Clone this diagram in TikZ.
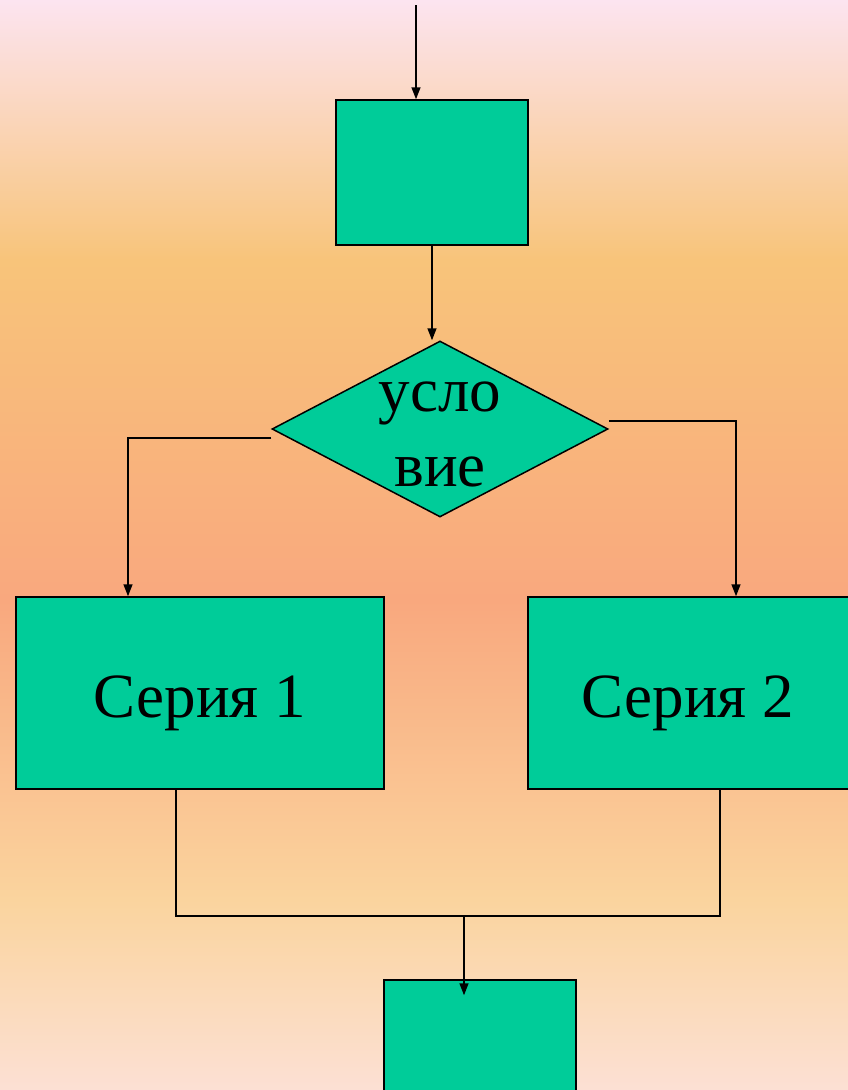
\documentclass[tikz,border=0pt]{standalone}
\usepackage{fontspec}
\setmainfont{Liberation Serif}
\usetikzlibrary{shapes.geometric,arrows.meta,positioning}

\definecolor{boxgreen}{RGB}{0,204,153}
\definecolor{bgpink}{RGB}{252,228,240}
\definecolor{bgorange}{RGB}{248,196,122}
\definecolor{bgsalmon}{RGB}{249,168,126}
\definecolor{bgsand}{RGB}{250,212,158}
\definecolor{bglight}{RGB}{252,224,212}

\tikzset{
  block/.style={rectangle,draw,fill=boxgreen,line width=1.5pt,inner sep=0pt},
  cond/.style={diamond,draw,fill=boxgreen,line width=1.5pt,inner sep=0pt},
  label text/.style={font=\fontsize{63}{75}\selectfont,align=center}
}

\begin{document}
\begin{tikzpicture}[x=1pt,y=-1pt,>={Triangle[length=12pt,width=9pt]},line width=1.5pt]

    % background
    \useasboundingbox (0,0) rectangle (848,1090);
    \fill[top color=bgpink,bottom color=bgorange] (0,0) rectangle (848,260);
    \fill[top color=bgorange,bottom color=bgsalmon] (0,260) rectangle (848,600);
    \fill[top color=bgsalmon,bottom color=bgsand] (0,600) rectangle (848,900);
    \fill[top color=bgsand,bottom color=bglight] (0,900) rectangle (848,1090);

    \coordinate (start) at (416,5);
    \node[block, minimum width=192pt, minimum height=145pt] (box1) at (432,172.5) {};
    \node[cond, minimum width=336pt, minimum height=176pt] (dia) [below of=box1, node distance=256.5pt, xshift=8pt] {};
    \node[label text, yshift=-5pt] (condtext) at (dia.center) {усло\\вие};
    \node[block, minimum width=368pt, minimum height=192pt] (s1) at (200,693) {};
    \node[block, minimum width=324pt, minimum height=192pt] (s2) [right of=s1, node distance=490pt] {};
    \node[label text, anchor=base] (s1text) at (200,717) {Серия 1};
    \node[label text, anchor=base] (s2text) at (688,717) {Серия 2};
    \node[block, minimum width=192pt, minimum height=160pt] (fin) at (480,1060) {};
    \coordinate (join) at (464,916);

    \draw[->] (start) -- (start |- box1.north);
    \draw[->] (box1.south) -- (box1.south |- dia.north);
    \draw[->] ([yshift=-9pt]dia.west) -| ([xshift=-72pt]s1.north);
    \draw[->] ([yshift=8pt]dia.east) -| ([xshift=46pt]s2.north);
    \draw ([xshift=-24pt]s1.south) |- (join) -| (s2.south -| 720,0);
    \draw[->] (join) -- ([yshift=-16pt]join |- fin.north);

\end{tikzpicture}
\end{document}
